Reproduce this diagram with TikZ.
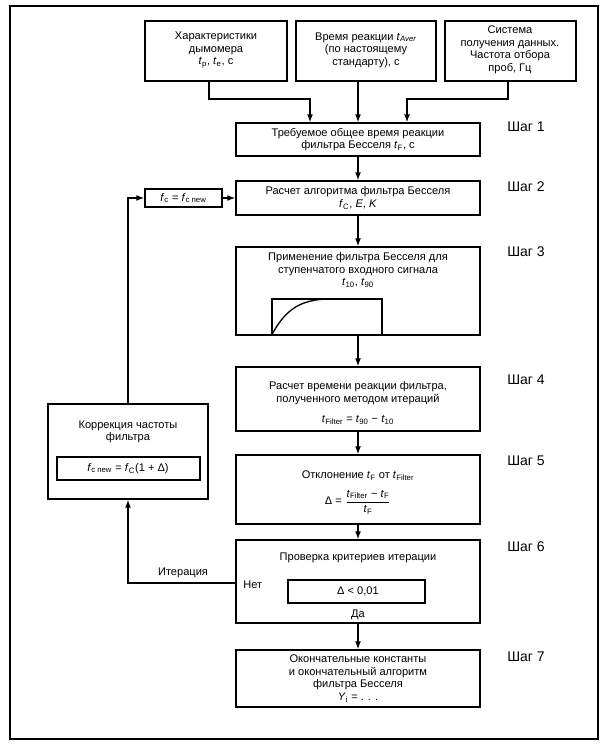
\documentclass[tikz,border=0pt]{standalone}
\usepackage{fontspec}
\setmainfont{Liberation Sans}
\usetikzlibrary{fit,arrows.meta}
\newcommand{\vi}[2]{\textit{#1}\textsubscript{#2}}
\begin{document}
\begin{tikzpicture}[x=0.75pt,y=-0.75pt,
  box/.style={draw,line width=1pt,inner sep=0pt,fit={#1}},
  txt/.style={align=center,font=\fontsize{8.3}{9.4}\selectfont,inner sep=0pt},
  shag/.style={anchor=west,font=\fontsize{10.5}{12}\selectfont,inner sep=0pt},
  arr/.style={line width=0.9pt,-{Latex[length=6pt,width=4.4pt]}},
  ln/.style={line width=0.9pt}]
\useasboundingbox (0,0) rectangle (604,746);
\draw[ln] (10,6) rectangle (598,739);
% top boxes
\node[box={(145,21) (287,81)}] (t1) {};
\node[txt] (t1t) at (216,50) {Характеристики\\дымомера\\\vi{t}{p}, \vi{t}{e}, с};
\node[box={(296,21) (436,81)}] (t2) {};
\node[txt] (t2t) at (366,50) {Время реакции \vi{t}{\textit{Aver}}\\(по настоящему\\стандарту), с};
\node[box={(445,21) (576,81)}] (t3) {};
\node[txt] (t3t) at (510,50) {Система\\получения данных.\\Частота отбора\\проб, Гц};
% steps
\node[box={(236,123) (480,156)}] (s1) {};
\node[txt] (s1t) at (358,139.5) {Требуемое общее время реакции\\фильтра Бесселя \vi{t}{F}, с};
\node[box={(236,181) (480,215)}] (s2) {};
\node[txt] (s2t) at (358,198) {Расчет алгоритма фильтра Бесселя\\\vi{f}{C}, \textit{E}, \textit{K}};
\node[box={(236,247) (480,335)}] (s3) {};
\node[txt] (s3t) at (358,270) {Применение фильтра Бесселя для\\ступенчатого входного сигнала\\\vi{t}{10}, \vi{t}{90}};
\node[box={(272,299) (382,335)}] (g3) {};
\draw[line width=1pt] (g3.south west) .. controls (284,312) and (298,299) .. (330,299);
\node[box={(236,367) (480,431)}] (s4) {};
\node[txt] (s4t) at (358,393) {Расчет времени реакции фильтра,\\полученного методом итераций};
\node[txt] (s4f) at (358,420) {\vi{t}{Filter} = \vi{t}{90} − \vi{t}{10}};
\node[box={(236,455) (480,524)}] (s5) {};
\node[txt] (s5t) at (358,476) {Отклонение \vi{t}{F} от \vi{t}{Filter}};
\node[txt] (s5f) at (358,502) {Δ = $\displaystyle\frac{\hbox{\vi{t}{Filter}~− \vi{t}{F}}}{\hbox{\vi{t}{F}}}$};
\node[box={(236,540) (480,623)}] (s6) {};
\node[txt] (s6t) at (358,558) {Проверка критериев итерации};
\node[box={(288,580) (425,603)}] (s6b) {};
\node[txt] (s6f) at (358,591.5) {Δ < 0,01};
\node[txt] (da) at (358,615) {Да};
\node[txt,anchor=west] (net) at (243,585) {Нет};
\node[box={(236,650) (480,707)}] (s7) {};
\node[txt] (s7t) at (358,678.5) {Окончательные константы\\и окончательный алгоритм\\фильтра Бесселя\\\vi{Y}{i} = . . .};
% step labels
\node[shag] (h1) at (507,127) {Шаг 1};
\node[shag] (h2) at (507,187) {Шаг 2};
\node[shag] (h3) at (507,252) {Шаг 3};
\node[shag] (h4) at (507,380) {Шаг 4};
\node[shag] (h5) at (507,461) {Шаг 5};
\node[shag] (h6) at (507,547) {Шаг 6};
\node[shag] (h7) at (507,657) {Шаг 7};
% left boxes
\node[box={(145,189) (222,207)}] (fc) {};
\node[txt] (fct) at (183.5,198) {\vi{f}{c} = \vi{f}{c new}};
\node[box={(48,404) (208,499)}] (kor) {};
\node[txt] (kort) at (128,432) {Коррекция частоты\\фильтра};
\node[box={(57,457) (200,480)}] (korb) {};
\node[txt] (korf) at (128,468.5) {\vi{f}{c new} = \vi{f}{C}(1 + Δ)};
\node[txt] (iter) at (183,573) {Итерация};
% connectors
\coordinate (j1) at (209,99);
\coordinate (j1e) at (310,99);
\coordinate (j3) at (508,99);
\coordinate (j3e) at (407,99);
\draw[arr] (t1.south -| j1) -- (j1) -- (j1e) -- (j1e |- s1.north);
\draw[arr] (t2.south -| s1.north) -- (s1.north);
\draw[arr] (t3.south -| j3) -- (j3) -- (j3e) -- (j3e |- s1.north);
\draw[arr] (s1) -- (s2);
\draw[arr] (s2) -- (s3);
\draw[arr] (s3) -- (s4);
\draw[arr] (s4) -- (s5);
\draw[arr] (s5) -- (s6);
\draw[arr] (s6) -- (s7);
\coordinate (lp) at (128,583);
\draw[arr] (s6.west |- lp) -- (lp) -- (kor.south);
\draw[arr] (kor.north) -- (kor.north |- fc.west) -- (fc.west);
\draw[arr] (fc.east) -- (s2.west |- fc.east);
\end{tikzpicture}
\end{document}
